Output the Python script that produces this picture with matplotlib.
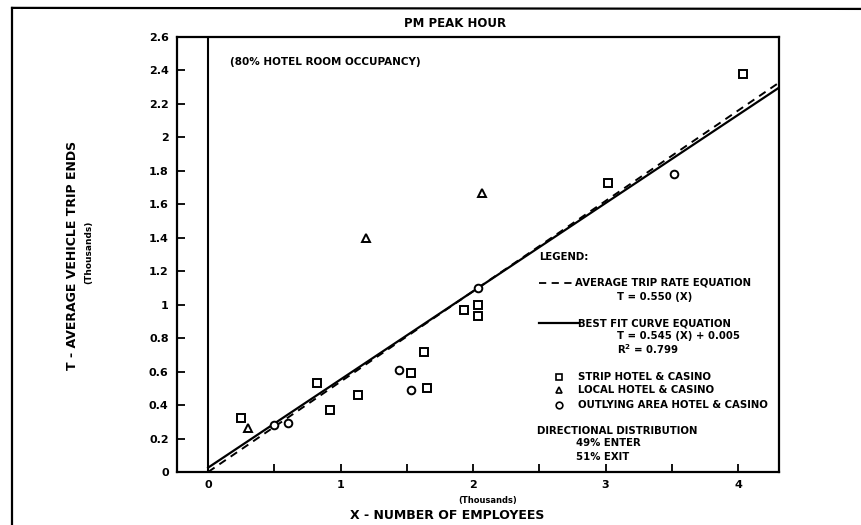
# pm peak hour trip ends vs number of employees, hotel & casino
import numpy as np
import matplotlib.pyplot as plt
from matplotlib.lines import Line2D

# data (thousands)
strip_x = [0.25, 0.82, 0.92, 1.13, 1.53, 1.63, 1.65, 1.93, 2.04, 2.04, 3.02, 4.04]
strip_y = [0.32, 0.53, 0.37, 0.46, 0.59, 0.72, 0.50, 0.97, 1.00, 0.93, 1.73, 2.38]
local_x = [0.30, 1.19, 2.07]
local_y = [0.26, 1.40, 1.67]
outly_x = [0.50, 0.60, 1.44, 1.53, 2.04, 3.52]
outly_y = [0.28, 0.29, 0.61, 0.49, 1.10, 1.78]
avg_rate = 0.540
fit_slope = 0.527
fit_icpt = 0.026
y_ticks = [0, 0.2, 0.4, 0.6, 0.8, 1, 1.2, 1.4, 1.6, 1.8, 2, 2.2, 2.4, 2.6]
y_labels = ['0', '0.2', '0.4', '0.6', '0.8', '1', '1.2', '1.4', '1.6', '1.8', '2', '2.2', '2.4', '2.6']
x_ticks = [0, 1, 2, 3, 4]

plt.rcParams['font.family'] = 'DejaVu Sans'
plt.rcParams['font.weight'] = 'bold'

fig = plt.figure(figsize=(8.61, 5.25), dpi=100)
ax = fig.add_axes([0.2056, 0.1010, 0.6992, 0.8285])

# page frame (left and top)
fig.add_artist(Line2D([0.014, 0.014], [0.0, 0.985], color='black', lw=1.6, transform=fig.transFigure))
fig.add_artist(Line2D([0.014, 1.0], [0.985, 0.983], color='black', lw=1.6, transform=fig.transFigure))

# lines
xx = np.array([0, 4.35])
ax.plot(xx, avg_rate * xx, color='black', lw=1.4, ls=(0, (4, 3)))
ax.plot(xx, fit_slope * xx + fit_icpt, color='black', lw=1.6)
ax.axvline(0, color='black', lw=1.5)

# points
mk = dict(mfc='white', mec='black', mew=1.4, ms=5.5, ls='none')
ax.plot(strip_x, strip_y, marker='s', **mk)
ax.plot(local_x, local_y, marker='^', **mk)
ax.plot(outly_x, outly_y, marker='o', **mk)

ax.set_xlim(-0.235, 4.31)
ax.set_ylim(0, 2.6)
ax.set_yticks(y_ticks)
ax.set_yticklabels(y_labels)
ax.set_xticks(x_ticks)
ax.set_xticks(np.arange(0.5, 4.5, 1.0), minor=True)
ax.tick_params(direction='in', length=6, width=1.3, labelsize=8, pad=6)
ax.tick_params(which='minor', direction='in', length=6, width=1.3)
for s in ax.spines.values():
    s.set_linewidth(1.6)

# titles and axis labels
fig.text(0.528, 0.956, 'PM PEAK HOUR', ha='center', va='center', fontsize=8.5)
ax.text(0.165, 2.45, '(80% HOTEL ROOM OCCUPANCY)', ha='left', va='center', fontsize=7.5)
fig.text(0.084, 0.514, 'T - AVERAGE VEHICLE TRIP ENDS', rotation=90, ha='center', va='center', fontsize=9)
fig.text(0.103, 0.52, '(Thousands)', rotation=90, ha='center', va='center', fontsize=6.5)
fig.text(0.519, 0.019, 'X - NUMBER OF EMPLOYEES', ha='center', va='center', fontsize=9)
fig.text(0.566, 0.047, '(Thousands)', ha='center', va='center', fontsize=6)

# legend drawn by hand
fs = 7.3
ax.text(2.50, 1.285, 'LEGEND:', fontsize=fs, va='center')
ax.plot([2.50, 2.77], [1.13, 1.13], color='black', lw=1.3, ls=(0, (4, 3)))
ax.text(2.77, 1.13, 'AVERAGE TRIP RATE EQUATION', fontsize=fs, va='center')
ax.text(3.09, 1.045, 'T = 0.550 (X)', fontsize=fs, va='center')
ax.plot([2.50, 2.79], [0.89, 0.89], color='black', lw=1.6)
ax.text(2.79, 0.89, 'BEST FIT CURVE EQUATION', fontsize=fs, va='center')
ax.text(3.09, 0.81, 'T = 0.545 (X) + 0.005', fontsize=fs, va='center')
ax.text(3.09, 0.735, 'R$^2$ = 0.799', fontsize=fs, va='center')
leg_mk = dict(mfc='white', mec='black', mew=1.2, ms=4.8, ls='none')
ax.plot([2.65], [0.57], marker='s', **leg_mk)
ax.plot([2.65], [0.49], marker='^', **leg_mk)
ax.plot([2.65], [0.40], marker='o', **leg_mk)
ax.text(2.79, 0.57, 'STRIP HOTEL & CASINO', fontsize=fs, va='center')
ax.text(2.79, 0.49, 'LOCAL HOTEL & CASINO', fontsize=fs, va='center')
ax.text(2.79, 0.40, 'OUTLYING AREA HOTEL & CASINO', fontsize=fs, va='center')
ax.text(2.485, 0.245, 'DIRECTIONAL DISTRIBUTION', fontsize=fs, va='center')
ax.text(2.78, 0.173, '49% ENTER', fontsize=fs, va='center')
ax.text(2.78, 0.09, '51% EXIT', fontsize=fs, va='center')

plt.savefig('out.png', dpi=100)
